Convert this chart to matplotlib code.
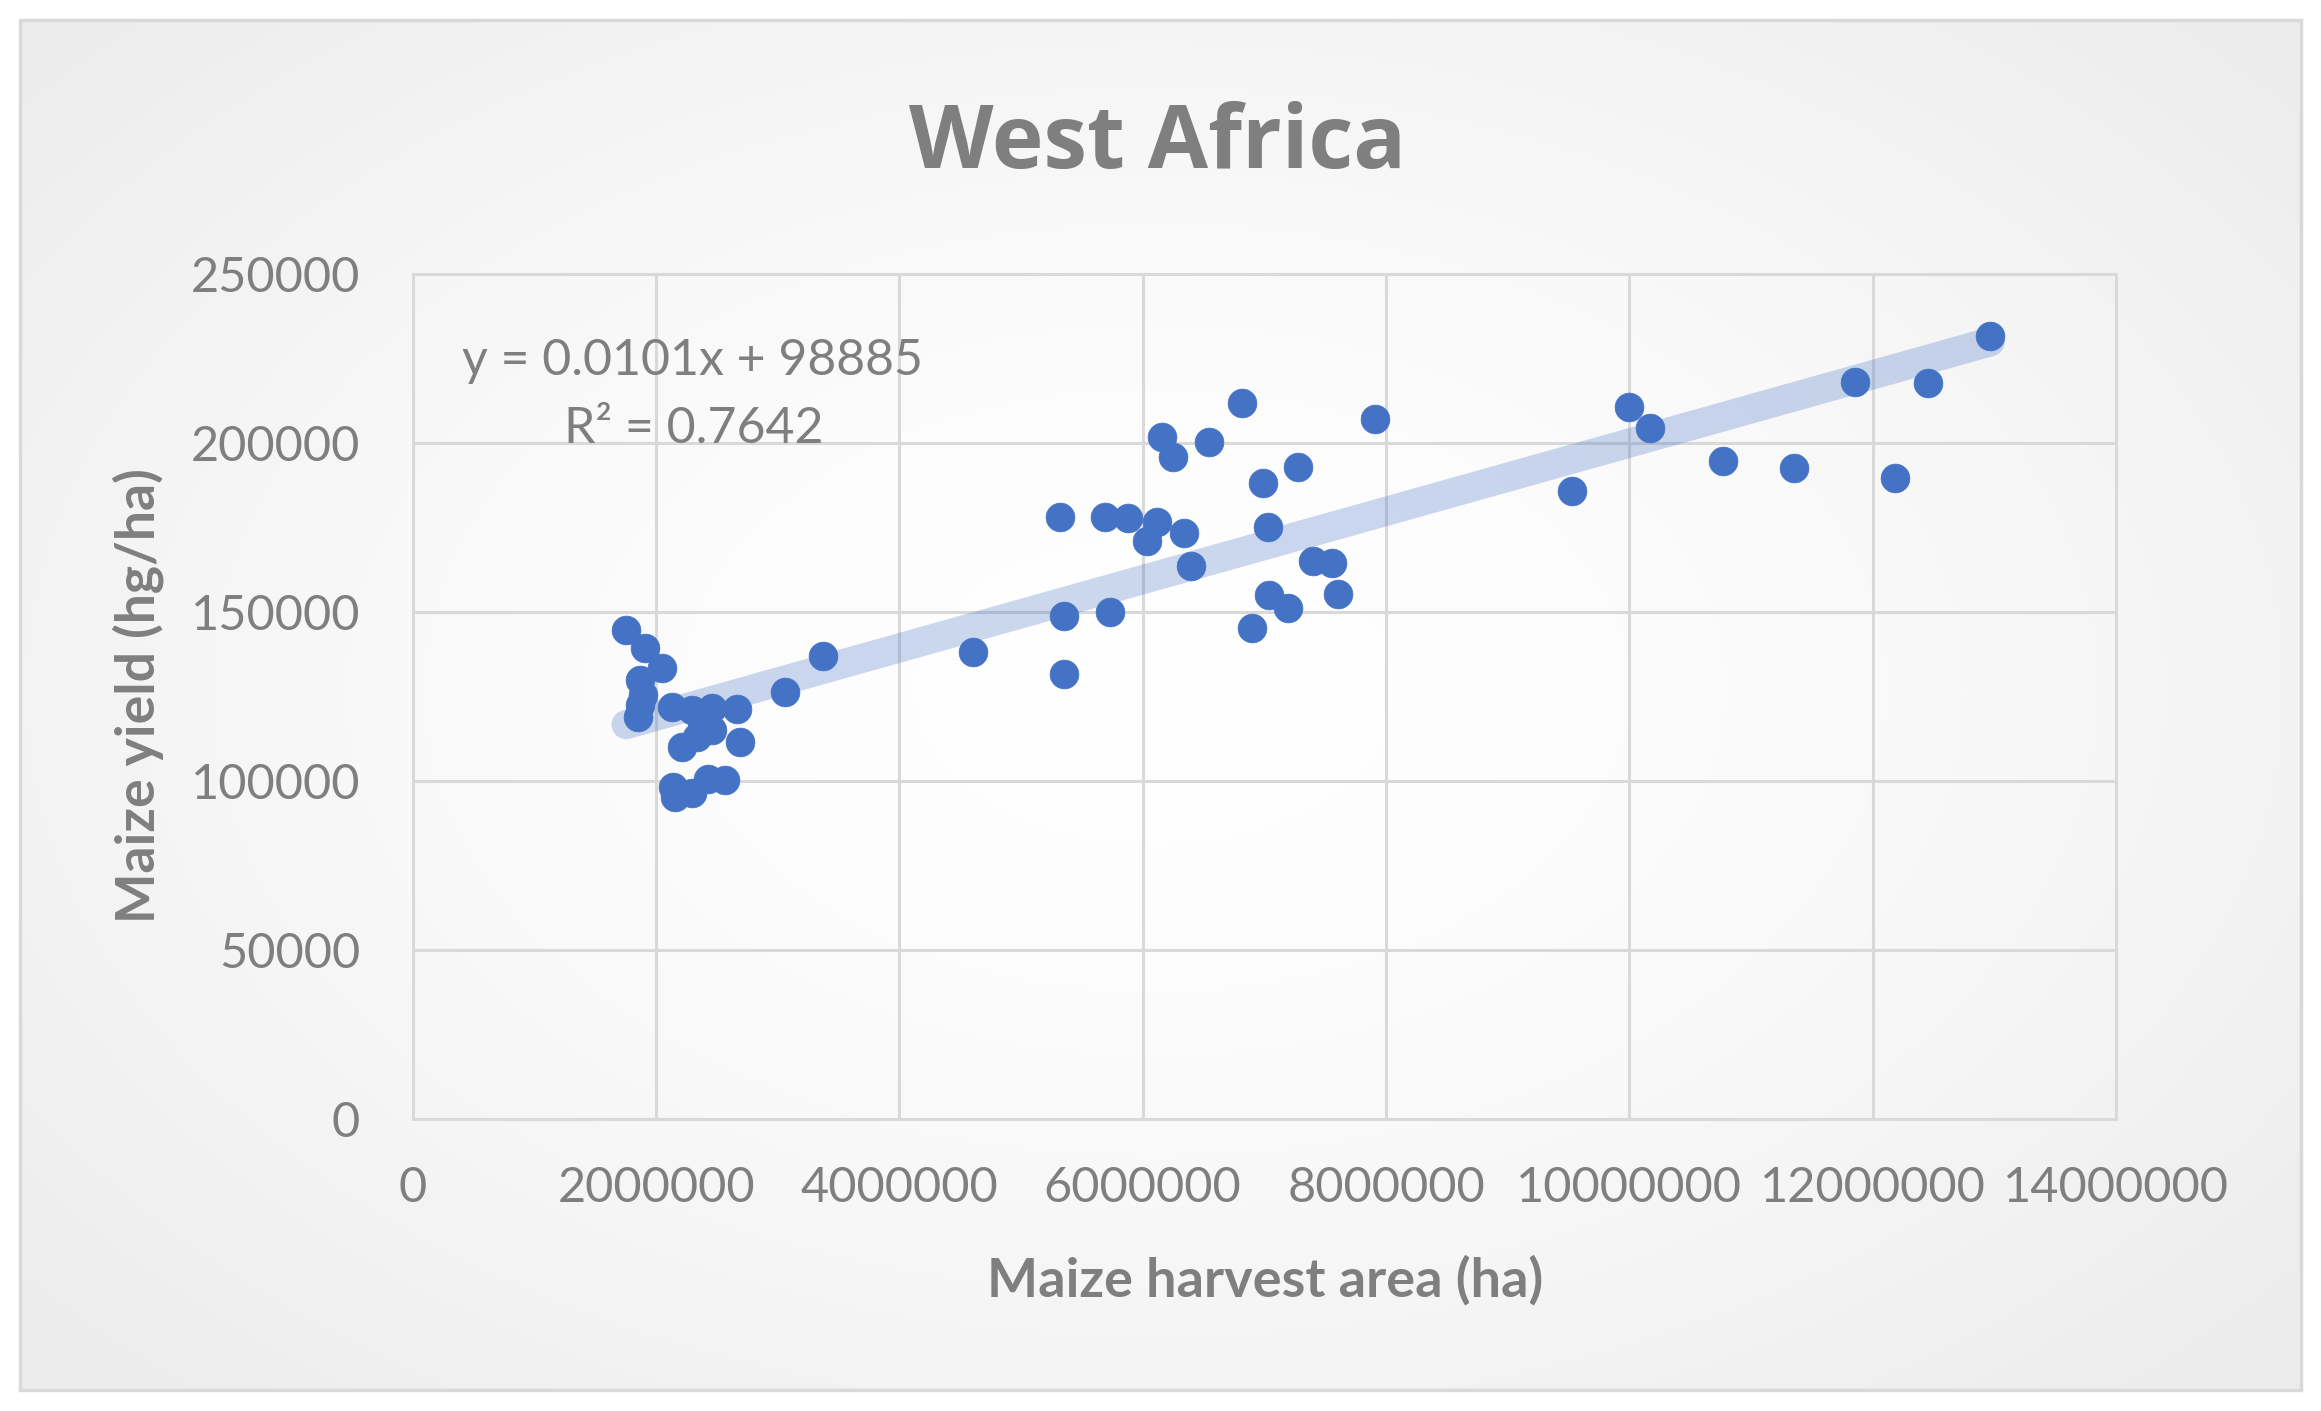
import numpy as np
import matplotlib
matplotlib.use("Agg")
import matplotlib.pyplot as plt
from matplotlib.patches import Rectangle
from matplotlib.ticker import FuncFormatter

# ---------------- data ----------------
harvest_area_ha = [
    1753000, 1909000, 2046000, 1868000, 1895000, 1870000, 1854000,
    2128000, 2293000, 2457000, 2663000, 2690000, 2210000, 2457000,
    2334000, 2375000, 2141000, 2155000, 2293000, 2429000, 2570000,
    3060000, 3374000, 4608000, 5320000, 5355000, 5355000, 5690000,
    5734000, 5882000, 6033000, 6115000, 6156000, 6247000, 6342000,
    6395000, 6545000, 6819000, 6896000, 6991000, 7028000, 7038000,
    7192000, 7274000, 7402000, 7554000, 7608000, 7910000, 9528000,
    9998000, 10169000, 10773000, 11353000, 11855000, 12181000,
    12455000, 12967000,
]
yield_hg_ha = [
    144600, 139200, 133300, 129800, 125400, 122400, 118900,
    121900, 120900, 121400, 121100, 111500, 110100, 115000,
    113000, 117000, 98200, 95300, 96500, 100400, 100200,
    126100, 136900, 138100, 178100, 148800, 131500, 178100,
    150000, 177600, 170900, 176400, 201800, 195700, 173400,
    163600, 200100, 211800, 145100, 188000, 175100, 154900,
    151000, 192700, 165000, 164300, 155100, 206900, 185700,
    210500, 204300, 194600, 192400, 218000, 189600,
    217600, 231700,
]
trend_slope = 0.0101
trend_intercept = 98885
trend_r2 = 0.7642
title = "West Africa"
x_label = "Maize harvest area (ha)"
y_label = "Maize yield (hg/ha)"
x_ticks = list(range(0, 14000001, 2000000))
y_ticks = list(range(0, 250001, 50000))

# ---------------- figure ----------------
W, H = 2321, 1411
fig = plt.figure(figsize=(W / 100, H / 100), dpi=100)
fig.patch.set_facecolor("white")
FONT = ["Lato", "DejaVu Sans"]
TFONT = ["Open Sans", "DejaVu Sans"]
GRAY = "#7F7F7F"
GRID = "#D9D9D9"
BLUE = "#4472C4"

# background (chart area with soft radial gradient + border)
bg = fig.add_axes([0, 0, 1, 1], zorder=-10)
bg.set_xlim(0, W)
bg.set_ylim(H, 0)
bg.axis("off")
gx, gy = np.meshgrid(np.linspace(20, 2301, 400), np.linspace(20, 1390, 250))
r = np.sqrt(((gx - 1155) / 1250) ** 2 + ((gy - 690) / 800) ** 2)
val = 1.0 - 0.055 * np.clip(r, 0, 1.2) ** 1.6
img = np.dstack([val, val, val])
bg.imshow(img, extent=(20, 2301, 1390, 20), aspect="auto", interpolation="bilinear")
bg.add_patch(Rectangle((20, 20), 2281, 1370, fill=False, ec=GRID, lw=2.5))

# plot axes
left, right = 412.8, 2115.9
top, bottom = 273.7, 1118.7
ax = fig.add_axes([left / W, 1 - bottom / H, (right - left) / W, (bottom - top) / H])
ax.set_facecolor("none")
ax.set_xlim(0, 14000000)
ax.set_ylim(0, 250000)
ax.set_xticks(x_ticks)
ax.set_yticks(y_ticks)
fmt = FuncFormatter(lambda v, p: f"{int(v)}")
ax.xaxis.set_major_formatter(fmt)
ax.yaxis.set_major_formatter(fmt)
ax.tick_params(axis="both", length=0, labelsize=35, labelcolor=GRAY)
ax.tick_params(axis="x", pad=34)
ax.tick_params(axis="y", pad=38)
for lab in ax.get_xticklabels() + ax.get_yticklabels():
    lab.set_family(FONT)
ax.grid(True, color=GRID, lw=2.2, zorder=0)
ax.set_axisbelow(True)
for s in ax.spines.values():
    s.set_color(GRID)
    s.set_linewidth(2.2)

# trendline
xs = np.array([min(harvest_area_ha), max(harvest_area_ha)], dtype=float)
ax.plot(xs, trend_slope * xs + trend_intercept, color=BLUE, alpha=0.28, lw=21,
        solid_capstyle="round", zorder=2)

# points
ax.scatter(harvest_area_ha, yield_hg_ha, s=430, color=BLUE, edgecolors=BLUE,
           linewidths=0.5, zorder=3)

# texts
def px(x, y):
    return x / W, 1 - y / H

fig.text(*px(1158, 168), title, ha="center", va="baseline", fontsize=63,
         fontweight="bold", color=GRAY, family=TFONT)
fig.text(*px(1265, 1297), x_label, ha="center", va="baseline", fontsize=39,
         fontweight="bold", color=GRAY, family=FONT)
fig.text(*px(155, 696), y_label, ha="center", va="baseline", rotation=90,
         rotation_mode="anchor", fontsize=38.5, fontweight="bold", color=GRAY,
         family=FONT)
fig.text(*px(693, 375), f"y = {trend_slope}x + {trend_intercept}", ha="center",
         va="baseline", fontsize=36, color=GRAY, family=FONT)
fig.text(*px(694, 443), f"R\u00b2 = {trend_r2}", ha="center", va="baseline",
         fontsize=36, color=GRAY, family=FONT)

fig.savefig("out.png", dpi=100, facecolor="white")
